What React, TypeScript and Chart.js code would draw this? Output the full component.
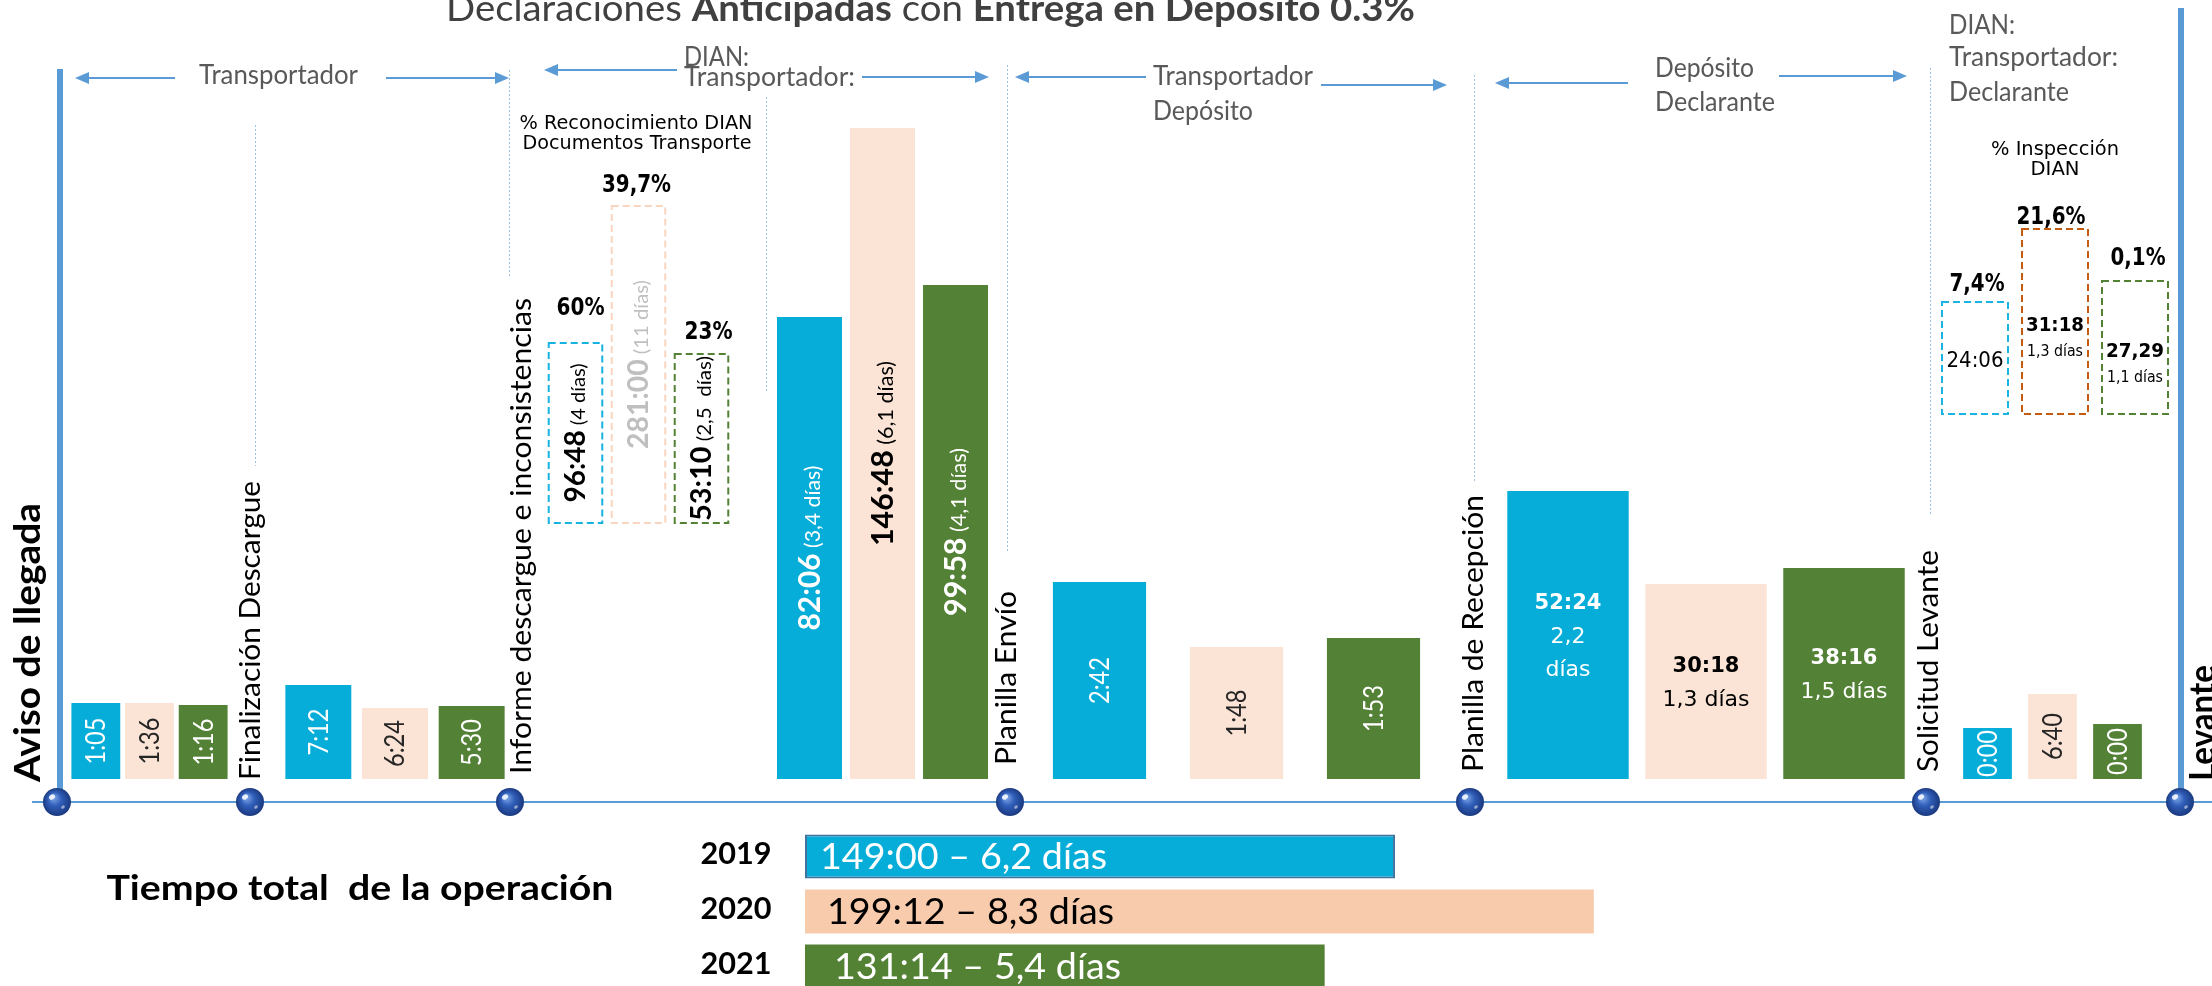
import React, { useEffect, useRef } from 'react';
import { Chart, registerables } from 'chart.js';
Chart.register(...registerables);

const CAL = '"Lato", "Open Sans", sans-serif';
const VER = '"DejaVu Sans", "Noto Sans", sans-serif';

// ---------------- DATA ----------------
const years = ['2019', '2020', '2021'];
const yearFill = ['#05ADD8', '#FBE4D5', '#538135'];
const yearInk = ['#FFFFFF', '#262626', '#FFFFFF'];

const milestones = [
  'Aviso de llegada',
  'Finalización Descargue',
  'Informe descargue e inconsistencias',
  'Planilla Envío',
  'Planilla de Recepción',
  'Solicitud Levante',
  'Levante',
];

// visual bar size of each stage as drawn in the infographic (relative units)
const barSize2019 = [76, 94, 462, 197, 288, 51];
const barSize2020 = [76, 71, 651, 132, 195, 85];
const barSize2021 = [74, 73, 494, 141, 211, 55];

const time2019 = ['1:05', '7:12', '82:06', '2:42', '52:24', '0:00'];
const time2020 = ['1:36', '6:24', '146:48', '1:48', '30:18', '6:40'];
const time2021 = ['1:16', '5:30', '99:58', '1:53', '38:16', '0:00'];
const days2019 = ['', '', '(3,4 días)', '', '2,2\ndías', ''];
const days2020 = ['', '', '(6,1 días)', '', '1,3 días', ''];
const days2021 = ['', '', '(4,1 días)', '', '1,5 días', ''];

// % Reconocimiento DIAN Documentos Transporte
const recogPct = ['60%', '39,7%', '23%'];
const recogSize = [180, 317, 169];
const recogTime = ['96:48', '281:00', '53:10'];
const recogDays = ['(4 días)', '(11 días)', '(2,5  días)'];

// % Inspección DIAN
const inspPct = ['7,4%', '21,6%', '0,1%'];
const inspSize = [112, 185, 133];
const inspTime = ['24:06', '31:18', '27,29'];
const inspDays = ['', '1,3 días', '1,1 días'];

// Tiempo total de la operación (hours)
const totalHours = [149.0, 199.2, 131.23];
const totalLabels = ['149:00 – 6,2 días', '199:12 – 8,3 días', '131:14 – 5,4 días'];

const times = [time2019, time2020, time2021];
const days = [days2019, days2020, days2021];

// ---------------- TEXT HELPERS ----------------
type Run = { t: string; size: number; bold?: boolean; color?: string; family?: string };
type Opt = { rot?: boolean; align?: 'left' | 'center' | 'right'; width?: number; vAlign?: 'center' | 'baseline'; byK?: number };

function fontOf(r: Run) {
  return `${r.bold ? 'bold ' : ''}${r.size}px ${r.family || CAL}`;
}

function drawRuns(ctx: CanvasRenderingContext2D, runs: Run[], x: number, y: number, o: Opt = {}) {
  ctx.save();
  ctx.translate(x, y);
  if (o.rot) ctx.rotate(-Math.PI / 2);
  ctx.textBaseline = 'alphabetic';
  ctx.textAlign = 'left';
  const ws = runs.map((r) => {
    ctx.font = fontOf(r);
    return ctx.measureText(r.t).width;
  });
  const total = ws.reduce((a, b) => a + b, 0);
  const sx = o.width ? o.width / total : 1;
  ctx.scale(sx, 1);
  const align = o.align || 'center';
  let cx = align === 'center' ? -total / 2 : align === 'right' ? -total : 0;
  const maxSize = Math.max(...runs.map((r) => r.size));
  const by = o.vAlign === 'baseline' ? 0 : maxSize * (o.byK ?? 0.35);
  runs.forEach((r, i) => {
    ctx.font = fontOf(r);
    ctx.fillStyle = r.color || '#000';
    ctx.fillText(r.t, cx, by);
    cx += ws[i];
  });
  ctx.restore();
}

function txt(ctx: CanvasRenderingContext2D, t: string, x: number, y: number, size: number, o: Opt & { bold?: boolean; color?: string; family?: string } = {}) {
  drawRuns(ctx, [{ t, size, bold: o.bold, color: o.color, family: o.family }], x, y, o);
}

// ---------------- DECORATION ----------------
const LINE = '#5B9BD5';

function arrow(ctx: CanvasRenderingContext2D, x1: number, tip: number, y: number) {
  const dir = tip > x1 ? 1 : -1;
  ctx.save();
  ctx.strokeStyle = LINE;
  ctx.fillStyle = LINE;
  ctx.lineWidth = 2;
  ctx.beginPath();
  ctx.moveTo(x1, y);
  ctx.lineTo(tip - dir * 12, y);
  ctx.stroke();
  ctx.beginPath();
  ctx.moveTo(tip, y);
  ctx.lineTo(tip - dir * 14, y - 6);
  ctx.lineTo(tip - dir * 14, y + 6);
  ctx.closePath();
  ctx.fill();
  ctx.restore();
}

function dot(ctx: CanvasRenderingContext2D, x: number, y: number) {
  const r = 14;
  ctx.save();
  const g = ctx.createRadialGradient(x - 4, y - 5, 1, x, y, r);
  g.addColorStop(0, '#7FA6E8');
  g.addColorStop(0.45, '#2F5DB8');
  g.addColorStop(1, '#1B3A80');
  ctx.fillStyle = g;
  ctx.beginPath();
  ctx.arc(x, y, r, 0, Math.PI * 2);
  ctx.fill();
  ctx.fillStyle = 'rgba(255,255,255,0.85)';
  ctx.beginPath();
  ctx.ellipse(x - 5, y - 5, 3.2, 2.4, -0.6, 0, Math.PI * 2);
  ctx.fill();
  ctx.fillStyle = 'rgba(255,255,255,0.5)';
  ctx.beginPath();
  ctx.ellipse(x + 6, y + 5, 2, 1.5, -0.6, 0, Math.PI * 2);
  ctx.fill();
  ctx.restore();
}

const dotX = [57, 250, 510, 1010, 1470, 1926, 2180];
const msLabelX = [30, 252, 523, 1008, 1475, 1930, 2205];
const msLabelStart = [782, 780, 774, 765, 772, 772, 781];
const msLabelLen = [279, 299, 476, 174, 277, 222, 116];
const dashedV = [
  [255, 125, 466],
  [509, 70, 277],
  [766, 97, 392],
  [1007, 65, 553],
  [1474, 75, 483],
  [1930, 68, 516],
];

function drawDecor(ctx: CanvasRenderingContext2D) {
  const TG = '#404040';
  drawRuns(
    ctx,
    [
      { t: 'Declaraciones ', size: 36, color: TG },
      { t: 'Anticipadas', size: 36, bold: true, color: TG },
      { t: ' con ', size: 36, color: TG },
      { t: 'Entrega en Deposito 0.3%', size: 36, bold: true, color: TG },
    ],
    446, 21, { align: 'left', width: 969, vAlign: 'baseline' }
  );
  const HG = '#595959';
  const h = (t: string, x: number, y: number, w: number) => txt(ctx, t, x, y, 27, { color: HG, align: 'left', width: w });
  h('Transportador', 199, 75, 159);
  h('DIAN:', 684, 57, 65);
  h('Transportador:', 684, 77, 171);
  h('Transportador', 1153, 76, 160);
  h('Depósito', 1153, 111, 100);
  h('Depósito', 1655, 68, 99);
  h('Declarante', 1655, 102, 120);
  h('DIAN:', 1949, 25, 66);
  h('Transportador:', 1949, 57, 169);
  h('Declarante', 1949, 92, 120);

  arrow(ctx, 175, 75, 78);
  arrow(ctx, 386, 509, 78);
  arrow(ctx, 677, 544, 70);
  arrow(ctx, 862, 989, 77);
  arrow(ctx, 1146, 1015, 77);
  arrow(ctx, 1321, 1447, 85);
  arrow(ctx, 1628, 1495, 83);
  arrow(ctx, 1779, 1907, 76);

  ctx.save();
  ctx.strokeStyle = '#9DC3E6';
  ctx.lineWidth = 1;
  ctx.setLineDash([2, 2]);
  dashedV.forEach(([x, y1, y2]) => {
    ctx.beginPath();
    ctx.moveTo(x + 0.5, y1);
    ctx.lineTo(x + 0.5, y2);
    ctx.stroke();
  });
  ctx.restore();

  ctx.fillStyle = LINE;
  ctx.fillRect(32, 801, 2180, 2);
  ctx.fillRect(57, 69, 6, 733);
  ctx.fillRect(2178, 8, 6, 794);
  dotX.forEach((x) => dot(ctx, x, 802));

  milestones.forEach((m, i) => {
    const bold = i === 0 || i === milestones.length - 1;
    txt(ctx, m, msLabelX[i], msLabelStart[i], bold ? 36 : 29, {
      bold, rot: true, align: 'left', width: msLabelLen[i], color: '#000', byK: 0.27,
    });
  });

  txt(ctx, '% Reconocimiento DIAN', 636, 122, 20, { family: VER, width: 233 });
  txt(ctx, 'Documentos Transporte', 637, 142, 20, { family: VER, width: 229 });
  txt(ctx, '% Inspección', 2055, 148, 20, { family: VER, width: 128 });
  txt(ctx, 'DIAN', 2055, 168, 20, { family: VER, width: 49 });

  txt(ctx, 'Tiempo total  de la operación', 360, 888, 34, { bold: true, width: 507 });
}

// ---------------- BACKGROUND + TOTALS CHART ----------------
const totalFill = ['#05ADD8', '#F8CBAD', '#548235'];
const totalInk = ['#FFFFFF', '#000000', '#FFFFFF'];
const totalTextDx = [15, 22, 29];

function BackgroundChart() {
  const ref = useRef<HTMLCanvasElement>(null);
  useEffect(() => {
    const chart = new Chart(ref.current as HTMLCanvasElement, {
      type: 'bar',
      data: {
        labels: years,
        datasets: [
          {
            label: 'Tiempo total',
            data: totalHours,
            backgroundColor: totalFill,
            borderColor: ['#41719C', '#F8CBAD', '#548235'],
            borderWidth: [2, 0, 0],
            borderSkipped: false,
            barPercentage: 0.8,
            categoryPercentage: 1,
          },
        ],
      },
      options: {
        indexAxis: 'y',
        responsive: false,
        animation: false,
        devicePixelRatio: 1,
        events: [],
        layout: { padding: { left: 805, right: 21, top: 829, bottom: 6 } },
        scales: { x: { display: false, min: 0, max: 350 }, y: { display: false } },
        plugins: { legend: { display: false }, tooltip: { enabled: false } },
      },
      plugins: [
        {
          id: 'decor',
          beforeDatasetsDraw(c: any) {
            drawDecor(c.ctx);
          },
          afterDatasetsDraw(c: any) {
            const ctx = c.ctx;
            c.getDatasetMeta(0).data.forEach((e: any, i: number) => {
              const b = e.getProps(['x', 'y', 'base'], true);
              txt(ctx, totalLabels[i], b.base + totalTextDx[i], b.y, 36, { color: totalInk[i], align: 'left', width: 287 });
              txt(ctx, years[i], 736, b.y - 3, 30, { bold: true, width: 71 });
            });
          },
        },
      ],
    } as any);
    return () => chart.destroy();
  }, []);
  return <canvas ref={ref} width={2212} height={1000} style={{ position: 'absolute', left: 0, top: 0 }} />;
}

// ---------------- SMALL STAGE CHARTS ----------------
type BarEl = { x: number; y: number; base: number; width: number };
type SmallProps = {
  left: number; bottom: number; width: number; height: number; pct: number;
  values: number[]; colors: string[]; dashed?: string[]; padBottom?: number;
  draw: (ctx: CanvasRenderingContext2D, bars: BarEl[]) => void;
};

function SmallChart(p: SmallProps) {
  const ref = useRef<HTMLCanvasElement>(null);
  useEffect(() => {
    const pb = p.padBottom || 0;
    const chart = new Chart(ref.current as HTMLCanvasElement, {
      type: 'bar',
      data: {
        labels: years,
        datasets: [
          {
            label: 'tiempo',
            data: p.values,
            backgroundColor: p.dashed ? 'rgba(0,0,0,0)' : p.colors,
            borderWidth: 0,
            categoryPercentage: 1,
            barPercentage: p.pct,
          },
        ],
      },
      options: {
        responsive: false,
        animation: false,
        devicePixelRatio: 1,
        events: [],
        layout: { padding: { left: 0, right: 0, top: 0, bottom: pb } },
        scales: { x: { display: false }, y: { display: false, min: 0, max: p.height } },
        plugins: { legend: { display: false }, tooltip: { enabled: false } },
      },
      plugins: [
        {
          id: 'labels',
          afterDatasetsDraw(c: any) {
            const ctx = c.ctx as CanvasRenderingContext2D;
            const bars: BarEl[] = c.getDatasetMeta(0).data.map((e: any) => e.getProps(['x', 'y', 'base', 'width'], true));
            if (p.dashed) {
              ctx.save();
              ctx.setLineDash([7, 4]);
              ctx.lineWidth = 2;
              bars.forEach((b, i) => {
                ctx.strokeStyle = p.dashed![i];
                ctx.strokeRect(b.x - b.width / 2, b.y, b.width, b.base - b.y);
              });
              ctx.restore();
            }
            p.draw(ctx, bars);
          },
        },
      ],
    } as any);
    return () => chart.destroy();
  }, []);
  const pb = p.padBottom || 0;
  return (
    <canvas
      ref={ref}
      width={p.width}
      height={p.height + pb}
      style={{ position: 'absolute', left: p.left, top: p.bottom - p.height, width: p.width, height: p.height + pb }}
    />
  );
}

const BASE_Y = 779;
const STAGE_H = 700;
const stageLayout = [
  { left: 69, width: 161, pct: 0.91 },
  { left: 280, width: 230, pct: 0.86 },
  { left: 773, width: 219, pct: 0.89 },
  { left: 1031, width: 411, pct: 0.68 },
  { left: 1499, width: 414, pct: 0.88 },
  { left: 1955, width: 195, pct: 0.75 },
];

const rotSimple = (s: number) => (ctx: CanvasRenderingContext2D, bars: BarEl[]) =>
  bars.forEach((b, k) => txt(ctx, times[k][s], b.x, (b.y + b.base) / 2, 27, { rot: true, color: yearInk[k], width: 47 }));

const inkStrong = ['#FFFFFF', '#000000', '#FFFFFF'];
const dTextLen = [165, 185, 168];

const stageDraw = [
  rotSimple(0),
  rotSimple(1),
  (ctx: CanvasRenderingContext2D, bars: BarEl[]) =>
    bars.forEach((b, k) =>
      drawRuns(
        ctx,
        [
          { t: times[k][2], size: 31, bold: true, color: inkStrong[k] },
          { t: ' ' + days[k][2], size: 22, color: inkStrong[k] },
        ],
        b.x, (b.y + b.base) / 2, { rot: true, width: dTextLen[k] }
      )
    ),
  rotSimple(3),
  (ctx: CanvasRenderingContext2D, bars: BarEl[]) =>
    bars.forEach((b, k) => {
      const lines = [{ t: times[k][4], bold: true }, ...days[k][4].split('\n').map((t) => ({ t, bold: false }))];
      const n = lines.length;
      const cy = (b.y + b.base) / 2;
      lines.forEach((ln, j) =>
        txt(ctx, ln.t, b.x, cy + (j - (n - 1) / 2) * 33, ln.bold ? 21 : 22, { bold: ln.bold, family: VER, color: inkStrong[k] })
      );
    }),
  rotSimple(5),
];

const recogInk = ['#000000', '#BFBFBF', '#000000'];
const recogTextLen = [139, 169, 165];
const recogPctDx = [5, -2, 7];
const recogPctDy = [36, 22, 23];
const recogPctLen = [48, 69, 48];
const inspPctDx = [2, -4, 3];
const inspPctDy = [19, 13, 24];
const inspPctLen = [55, 69, 55];

const drawRecog = (ctx: CanvasRenderingContext2D, bars: BarEl[]) =>
  bars.forEach((b, k) => {
    drawRuns(
      ctx,
      [
        { t: recogTime[k], size: 28, bold: true, color: recogInk[k] },
        { t: ' ' + recogDays[k], size: 20, color: recogInk[k] },
      ],
      b.x, (b.y + b.base) / 2, { rot: true, width: recogTextLen[k] }
    );
    txt(ctx, recogPct[k], b.x + recogPctDx[k], b.y - recogPctDy[k], 24, { bold: true, family: VER, width: recogPctLen[k] });
  });

const drawInsp = (ctx: CanvasRenderingContext2D, bars: BarEl[]) =>
  bars.forEach((b, k) => {
    const cy = (b.y + b.base) / 2;
    const hasDays = inspDays[k] !== '';
    txt(ctx, inspTime[k], b.x, cy + 2, hasDays ? 20 : 21, { bold: hasDays, family: VER, width: hasDays ? 58 : 57 });
    if (hasDays) txt(ctx, inspDays[k], b.x, cy + 29, 15, { family: VER, width: 56 });
    txt(ctx, inspPct[k], b.x + inspPctDx[k], b.y - inspPctDy[k], 24, { bold: true, family: VER, width: inspPctLen[k] });
  });

export default function App() {
  return (
    <div style={{ position: 'fixed', left: 0, top: 0, width: 2212, height: 986, overflow: 'hidden', background: '#fff' }}>
      <BackgroundChart />
      {stageLayout.map((L, i) => (
        <SmallChart
          key={i}
          left={L.left}
          width={L.width}
          bottom={BASE_Y}
          height={STAGE_H}
          pct={L.pct}
          values={[barSize2019[i], barSize2020[i], barSize2021[i]]}
          colors={yearFill}
          draw={stageDraw[i]}
        />
      ))}
      <SmallChart
        left={544} width={189} bottom={523} height={400} pct={0.85} padBottom={4}
        values={recogSize} colors={yearFill} dashed={['#17B3E0', '#F9D5C0', '#548235']} draw={drawRecog}
      />
      <SmallChart
        left={1935} width={240} bottom={414} height={300} pct={0.825} padBottom={4}
        values={inspSize} colors={yearFill} dashed={['#19B4E2', '#C55A11', '#548235']} draw={drawInsp}
      />
    </div>
  );
}
